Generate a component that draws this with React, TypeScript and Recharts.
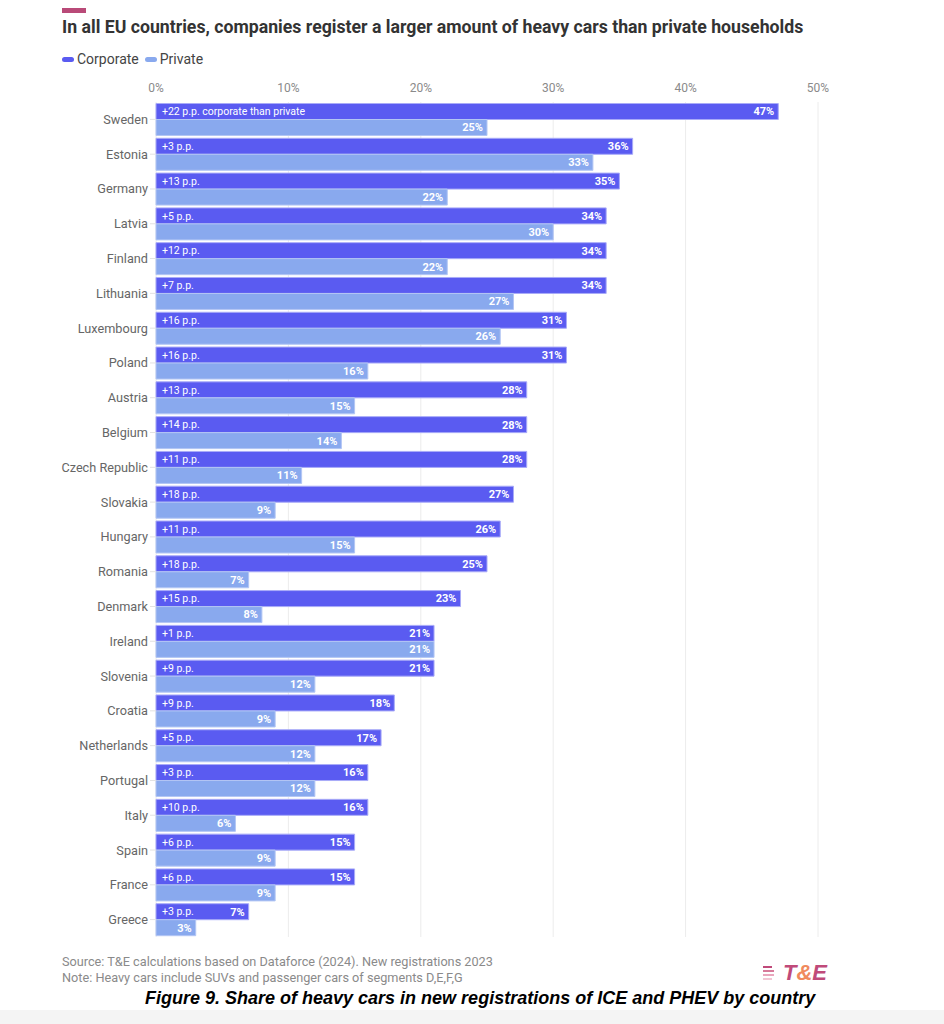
import React from "react";
import { BarChart, Bar, XAxis, YAxis, CartesianGrid, LabelList } from "recharts";

const countries = ["Sweden","Estonia","Germany","Latvia","Finland","Lithuania","Luxembourg","Poland","Austria","Belgium","Czech Republic","Slovakia","Hungary","Romania","Denmark","Ireland","Slovenia","Croatia","Netherlands","Portugal","Italy","Spain","France","Greece"];
const corporate = [47,36,35,34,34,34,31,31,28,28,28,27,26,25,23,21,21,18,17,16,16,15,15,7];
const privateShare = [25,33,22,30,22,27,26,16,15,14,11,9,15,7,8,21,12,9,12,12,6,9,9,3];
const gapLabels = ["+22 p.p. corporate than private","+3 p.p.","+13 p.p.","+5 p.p.","+12 p.p.","+7 p.p.","+16 p.p.","+16 p.p.","+13 p.p.","+14 p.p.","+11 p.p.","+18 p.p.","+11 p.p.","+18 p.p.","+15 p.p.","+1 p.p.","+9 p.p.","+9 p.p.","+5 p.p.","+3 p.p.","+10 p.p.","+6 p.p.","+6 p.p.","+3 p.p."];
const xTicks = [0,10,20,30,40,50];

const CORP = "#5a5bf1";
const PRIV = "#89a9ee";
const FONT = "Roboto, 'Liberation Sans', sans-serif";

const data = countries.map((c, i) => ({
  country: c,
  corporate: corporate[i],
  private: privateShare[i],
  gap: gapLabels[i],
}));

export default function App() {
  return (
    <div style={{ position: "absolute", left: 0, top: 0, width: 944, height: 1024, background: "#fff", fontFamily: FONT, overflow: "hidden" }}>
      <div style={{ position: "absolute", left: 62, top: 8, width: 24, height: 5, background: "#b94a78" }} />
      <div style={{ position: "absolute", left: 62, top: 17, fontSize: 17.7, fontWeight: 700, color: "#333", whiteSpace: "nowrap" }}>
        In all EU countries, companies register a larger amount of heavy cars than private households
      </div>
      <div style={{ position: "absolute", left: 62, top: 51, fontSize: 14, color: "#444", display: "flex", alignItems: "center", whiteSpace: "nowrap" }}>
        <span style={{ display: "inline-block", width: 12, height: 5, borderRadius: 3, background: CORP, marginRight: 3 }} />
        <span style={{ marginRight: 6 }}>Corporate</span>
        <span style={{ display: "inline-block", width: 12, height: 5, borderRadius: 3, background: PRIV, marginRight: 3 }} />
        <span>Private</span>
      </div>
      <div style={{ position: "absolute", left: 0, top: 0 }}>
        <BarChart
          width={944}
          height={940}
          data={data}
          layout="vertical"
          margin={{ top: 72, right: 126, bottom: 3, left: 8 }}
          barCategoryGap={1.5}
          barGap={0}
        >
          <CartesianGrid horizontal={false} stroke="#ececec" />
          <XAxis
            type="number"
            orientation="top"
            domain={[0, 50]}
            ticks={xTicks}
            tickFormatter={(v) => `${v}%`}
            axisLine={false}
            tickLine={false}
            height={30}
            tick={{ fill: "#8a8a8a", fontSize: 12, fontFamily: FONT }}
            tickMargin={4}
          />
          <YAxis
            type="category"
            dataKey="country"
            width={148}
            axisLine={false}
            tickLine={{ stroke: "#e2e2e2" }}
            tickSize={6}
            tickMargin={2}
            tick={{ fill: "#666", fontSize: 12.7, fontFamily: FONT }}
            interval={0}
          />
          <Bar dataKey="corporate" fill={CORP} stroke="#a9abf8" strokeWidth={1} isAnimationActive={false}>
            <LabelList dataKey="gap" position="insideLeft" offset={6} fill="#fff" fontSize={10.5} fontFamily={FONT} />
            <LabelList dataKey="corporate" position="insideRight" offset={4} formatter={(v: number) => `${v}%`} fill="#fff" fontSize={11} fontWeight={700} fontFamily={FONT} />
          </Bar>
          <Bar dataKey="private" fill={PRIV} stroke="#b3c6f4" strokeWidth={1} isAnimationActive={false}>
            <LabelList dataKey="private" position="insideRight" offset={4} formatter={(v: number) => `${v}%`} fill="#fff" fontSize={11} fontWeight={700} fontFamily={FONT} />
          </Bar>
        </BarChart>
      </div>
      <div style={{ position: "absolute", left: 62, top: 954, fontSize: 12.7, color: "#8a8a8a", lineHeight: "16px", whiteSpace: "nowrap" }}>
        <div>Source: T&amp;E calculations based on Dataforce (2024). New registrations 2023</div>
        <div>Note: Heavy cars include SUVs and passenger cars of segments D,E,F,G</div>
      </div>
      <div style={{ position: "absolute", left: 763, top: 960, display: "flex", alignItems: "center", whiteSpace: "nowrap" }}>
        <div style={{ display: "flex", flexDirection: "column", gap: 2, marginRight: 9 }}>
          <span style={{ display: "block", width: 9, height: 2, background: "#c04a7a" }} />
          <span style={{ display: "block", width: 11, height: 2, background: "#d77a9a" }} />
          <span style={{ display: "block", width: 11, height: 2, background: "#e9a7bd" }} />
          <span style={{ display: "block", width: 9, height: 2, background: "#f2c6d4" }} />
        </div>
        <span style={{ fontFamily: "'Liberation Sans', Arial, sans-serif", fontWeight: 700, fontStyle: "italic", fontSize: 22 }}>
          <span style={{ color: "#c04a7a" }}>T</span>
          <span style={{ color: "#f08a5d" }}>&amp;</span>
          <span style={{ color: "#c04a7a" }}>E</span>
        </span>
      </div>
      <div style={{ position: "absolute", left: 145, top: 988, fontFamily: "'Liberation Sans', Arial, sans-serif", fontWeight: 700, fontStyle: "italic", fontSize: 18, color: "#000", whiteSpace: "nowrap" }}>
        Figure 9. Share of heavy cars in new registrations of ICE and PHEV by country
      </div>
      <div style={{ position: "absolute", left: 0, top: 1010, width: 944, height: 14, background: "#f4f4f4" }} />
    </div>
  );
}
